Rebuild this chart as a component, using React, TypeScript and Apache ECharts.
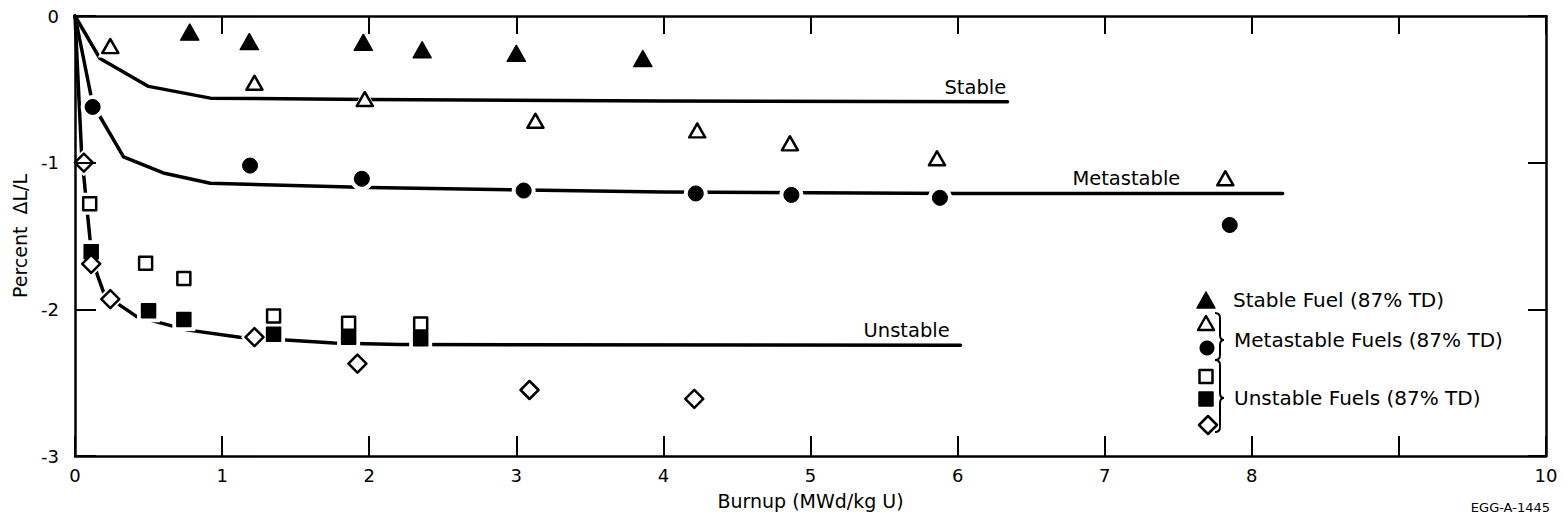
import React, { useEffect, useRef } from "react";
import * as echarts from "echarts";

// ---------- data ----------
const xTickValues = [0, 1, 2, 3, 4, 5, 6, 7, 8, 9, 10];
const xTickLabels = ["0", "1", "2", "3", "4", "5", "6", "7", "8", "", "10"];
const yTickValues = [-3, -2, -1, 0];
const yTickLabels = ["-3", "-2", "-1", "0"];

// Stable fuel (filled triangles)
const stableFuel = [
  [0.78, -0.11], [1.185, -0.175], [1.96, -0.18], [2.36, -0.23], [3.0, -0.255], [3.86, -0.29],
];
// Metastable fuels (open triangles)
const metaOpenTri = [
  [0.24, -0.205], [1.22, -0.455], [1.97, -0.566], [3.13, -0.714], [4.23, -0.78],
  [4.86, -0.868], [5.86, -0.97], [7.82, -1.106],
];
// Metastable fuels (filled circles)
const metaCircle = [
  [0.12, -0.62], [1.19, -1.02], [1.95, -1.11], [3.05, -1.19], [4.22, -1.21],
  [4.87, -1.22], [5.88, -1.24], [7.85, -1.425],
];
// Unstable fuels (open squares)
const unstOpenSq = [
  [0.1, -1.28], [0.48, -1.686], [0.74, -1.79], [1.35, -2.045], [1.86, -2.095], [2.35, -2.1],
];
// Unstable fuels (filled squares)
const unstFillSq = [
  [0.11, -1.607], [0.5, -2.01], [0.74, -2.07], [1.35, -2.17], [1.86, -2.19], [2.35, -2.2],
];
// Unstable fuels (open diamonds)
const unstDiamond = [
  [0.06, -1.0], [0.11, -1.69], [0.24, -1.93], [1.22, -2.19], [1.92, -2.37], [3.09, -2.55], [4.21, -2.61],
];

// Trend curves
const stableCurve = [
  [0, 0], [0.17, -0.29], [0.5, -0.48], [0.92, -0.56], [2, -0.57], [4, -0.58], [6.34, -0.585],
];
const metaCurve = [
  [0, 0], [0.12, -0.6], [0.33, -0.96], [0.6, -1.07], [0.92, -1.14], [2, -1.17], [4, -1.2],
  [6, -1.21], [8.21, -1.21],
];
const unstCurve = [
  [0, 0], [0.045, -0.94], [0.08, -1.3], [0.11, -1.6], [0.15, -1.76], [0.2, -1.9], [0.42, -2.05],
  [0.76, -2.14], [1.12, -2.19], [1.76, -2.23], [2.2, -2.24], [6.02, -2.245],
];
const curveLabelNames = ["Stable", "Metastable", "Unstable"];
const curveLabelX = [5.91, 6.78, 5.36];
const curveLabelY = [-0.49, -1.11, -2.147];

const legendTexts = ["Stable Fuel (87% TD)", "Metastable Fuels (87% TD)", "Unstable Fuels (87% TD)"];
const xAxisName = "Burnup (MWd/kg U)";
const yAxisName = "Percent\u00A0\u00A0ΔL/L";
const figureId = "EGG-A-1445";

// ---------- shapes ----------
const FONT = "'DejaVu Sans', Arial, sans-serif";
const INK = "#000000";

function bracePath(h: number, t: number) {
  return `M0,0 Q5,0 5,5 L5,${t - 5} Q5,${t} 9,${t} Q5,${t} 5,${t + 5} L5,${h - 5} Q5,${h} 0,${h}`;
}
echarts.graphic.registerShape("brace1", echarts.graphic.extendPath(bracePath(47, 27), {}));
echarts.graphic.registerShape("brace2", echarts.graphic.extendPath(bracePath(72, 38), {}));

export default function App() {
  const ref = useRef<HTMLDivElement>(null);

  useEffect(() => {
    const chart = echarts.init(ref.current!, null, { renderer: "svg" });

    const axisLine = { show: true, onZero: false, lineStyle: { color: INK, width: 2.5 } };
    const tickStyle = { color: INK, width: 2 };

    const scatterDefs: any[] = [
      { data: stableFuel, symbol: "triangle", size: [18, 16], fill: INK, stroke: INK, bw: 1.5 },
      { data: metaOpenTri, symbol: "triangle", size: [16, 14], fill: "#fff", stroke: INK, bw: 2.5 },
      { data: metaCircle, symbol: "circle", size: 15, fill: INK, stroke: INK, bw: 1 },
      { data: unstOpenSq, symbol: "rect", size: 13, fill: "#fff", stroke: INK, bw: 2.5 },
      { data: unstFillSq, symbol: "rect", size: 14, fill: INK, stroke: INK, bw: 1.5 },
      { data: unstDiamond, symbol: "diamond", size: 18, fill: "#fff", stroke: INK, bw: 2.5 },
    ];

    const haloSeries = scatterDefs.map((d) => ({
      type: "scatter",
      data: d.data,
      symbol: d.symbol,
      symbolSize: Array.isArray(d.size) ? [d.size[0] + 9, d.size[1] + 9] : d.size + 9,
      itemStyle: { color: "#fff", opacity: 1 },
      z: 3,
      silent: true,
    }));
    const markerSeries = scatterDefs.map((d) => ({
      type: "scatter",
      data: d.data,
      symbol: d.symbol,
      symbolSize: d.size,
      itemStyle: { color: d.fill, borderColor: d.stroke, borderWidth: d.bw, borderJoin: "round", opacity: 1 },
      z: 4,
      silent: true,
    }));
    const curveSeries = [stableCurve, metaCurve, unstCurve].map((c) => ({
      type: "line",
      data: c,
      showSymbol: false,
      symbol: "none",
      lineStyle: { color: INK, width: 3.5, cap: "round", join: "round" },
      z: 2,
      silent: true,
    }));
    const labelSeries = {
      type: "scatter",
      symbolSize: 0.1,
      itemStyle: { color: "#ffffff" },
      data: curveLabelNames.map((n, i) => ({ name: n, value: [curveLabelX[i], curveLabelY[i]] })),
      label: {
        show: true,
        position: "right",
        distance: 0,
        formatter: "{b}",
        fontFamily: FONT,
        fontSize: 19.5,
        color: INK,
        opacity: 1,
      },
      z: 5,
      silent: true,
    };

    // legend (drawn as graphic)
    const legendX = 1206;
    const legendGraphic: any[] = [
      { type: "polygon", shape: { points: [[legendX, 292], [legendX - 9, 308], [legendX + 9, 308]] }, style: { fill: INK, stroke: INK, lineWidth: 1.5, lineJoin: "round" } },
      { type: "polygon", shape: { points: [[legendX, 316], [legendX - 8, 330], [legendX + 8, 330]] }, style: { fill: "#fff", stroke: INK, lineWidth: 2.5, lineJoin: "round" } },
      { type: "circle", shape: { cx: legendX + 1, cy: 348, r: 7.5 }, style: { fill: INK } },
      { type: "rect", shape: { x: legendX - 6.5, y: 370, width: 13, height: 13 }, style: { fill: "#fff", stroke: INK, lineWidth: 2.5, lineJoin: "round" } },
      { type: "rect", shape: { x: legendX - 7, y: 392, width: 14, height: 14 }, style: { fill: INK, stroke: INK, lineWidth: 1.5, lineJoin: "round" } },
      { type: "polygon", shape: { points: [[legendX + 2, 416], [legendX + 11, 425], [legendX + 2, 434], [legendX - 7, 425]] }, style: { fill: "#fff", stroke: INK, lineWidth: 2.5, lineJoin: "round" } },
      { type: "brace1", x: 1215, y: 313, style: { fill: "none", stroke: INK, lineWidth: 2 } },
      { type: "brace2", x: 1215, y: 360, style: { fill: "none", stroke: INK, lineWidth: 2 } },
      { type: "text", x: 1233, y: 300, style: { text: legendTexts[0], fontFamily: FONT, fontSize: 20, fill: INK, align: "left", verticalAlign: "middle" } },
      { type: "text", x: 1234, y: 340, style: { text: legendTexts[1], fontFamily: FONT, fontSize: 20, fill: INK, align: "left", verticalAlign: "middle" } },
      { type: "text", x: 1234, y: 398, style: { text: legendTexts[2], fontFamily: FONT, fontSize: 20, fill: INK, align: "left", verticalAlign: "middle" } },
      { type: "text", x: 1550, y: 507, style: { text: figureId, fontFamily: FONT, fontSize: 13, fill: INK, align: "right", verticalAlign: "middle" } },
    ];

    chart.setOption({
      animation: false,
      backgroundColor: "#fff",
      grid: { left: 75, right: 22, top: 16, bottom: 68, containLabel: false },
      xAxis: [
        {
          type: "value", min: 0, max: 10, interval: 1, position: "bottom", z: 10,
          axisLine, axisTick: { show: true, inside: true, length: 20, lineStyle: tickStyle },
          axisLabel: {
            show: true, margin: 10, fontSize: 18, fontFamily: FONT, color: INK,
            formatter: (v: number) => {
              const i = xTickValues.indexOf(Math.round(v));
              return i >= 0 ? xTickLabels[i] : "";
            },
          },
          splitLine: { show: false },
          name: xAxisName, nameLocation: "middle", nameGap: 35,
          nameTextStyle: { fontSize: 19, fontFamily: FONT, color: INK },
        },
        {
          type: "value", min: 0, max: 10, interval: 1, position: "top", z: 10,
          axisLine, axisTick: { show: true, inside: true, length: 18, lineStyle: tickStyle },
          axisLabel: { show: false }, splitLine: { show: false },
        },
      ],
      yAxis: [
        {
          type: "value", min: -3, max: 0, interval: 1, position: "left", z: 10,
          axisLine, axisTick: { show: true, inside: true, length: 21, lineStyle: tickStyle },
          axisLabel: {
            show: true, margin: 16, fontSize: 18, fontFamily: FONT, color: INK,
            formatter: (v: number) => {
              const i = yTickValues.indexOf(Math.round(v));
              return i >= 0 ? yTickLabels[i] : "";
            },
          },
          splitLine: { show: false },
          name: yAxisName, nameLocation: "middle", nameRotate: 90, nameGap: 46,
          nameTextStyle: { fontSize: 19, fontFamily: FONT, color: INK },
        },
        {
          type: "value", min: -3, max: 0, interval: 1, position: "right", z: 10,
          axisLine, axisTick: { show: true, inside: true, length: 18, lineStyle: tickStyle },
          axisLabel: { show: false }, splitLine: { show: false },
        },
      ],
      series: [...curveSeries, ...haloSeries, ...markerSeries, labelSeries],
      graphic: legendGraphic,
    });

    return () => chart.dispose();
  }, []);

  return (
    <div
      ref={ref}
      style={{ position: "fixed", left: 0, top: 0, width: 1568, height: 524, background: "#fff" }}
    />
  );
}
